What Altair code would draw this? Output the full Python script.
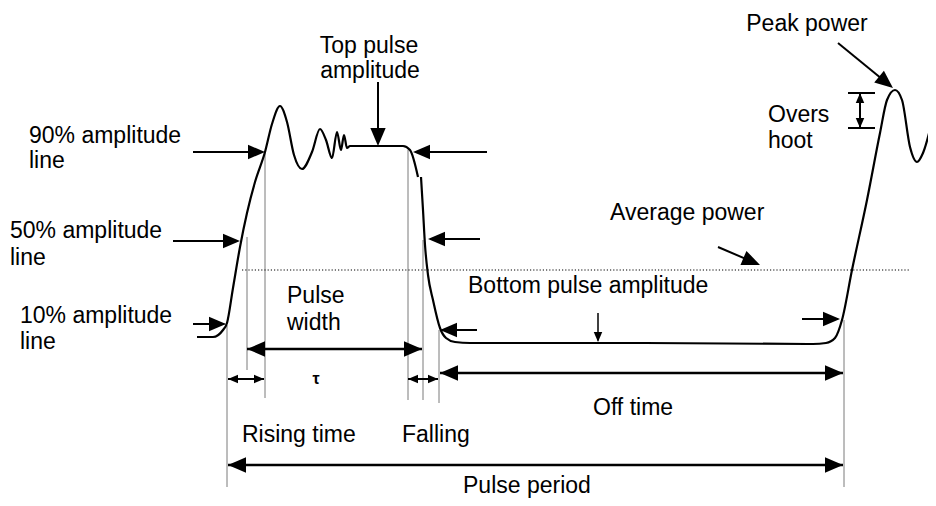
import math
import altair as alt
import pandas as pd

# ---- waveform (diagram units = reference pixels) ----
WAVE1_X = [197, 213, 223, 227, 233, 240, 247, 255, 265, 272, 280, 287, 294, 302, 312, 320, 326, 332, 337, 341, 344, 347, 350, 380, 403, 410, 418]
WAVE1_Y = [337, 337, 330, 323, 288, 247, 213, 182, 152, 124, 106, 122, 155, 169, 152, 129, 140, 158, 132, 150, 135, 148, 146, 146, 146, 150, 177]
WAVE2_X = [421, 423, 425, 428, 433, 440, 446, 455, 470, 640, 813, 826, 835, 842, 852, 867, 880, 887, 895, 902, 910, 917, 923, 933]
WAVE2_Y = [177, 210, 245, 275, 300, 328, 338, 342, 343, 343, 344, 343, 338, 320, 270, 200, 133, 100, 90, 100, 147, 162, 153, 117]

# average power level
AVG_Y = 270
AVG_X = [242, 910]

# single arrows: tail -> tip
ARROW_TAIL_X = [193, 173, 193, 378, 487, 480, 477, 598, 802, 718, 838]
ARROW_TAIL_Y = [152, 241, 324, 82, 152, 239, 330, 313, 319, 247, 43]
ARROW_TIP_X = [265, 240, 226, 378, 413, 428, 440, 598, 840, 760, 893]
ARROW_TIP_Y = [152, 241, 324, 146, 152, 239, 330, 342, 319, 265, 88]
ARROW_HEAD = [17, 17, 17, 18, 17, 17, 17, 10, 17, 18, 18]
ARROW_WIDTH = [2, 2, 2, 2, 2, 2, 2, 1.5, 2, 2, 2]

# double arrows (dimension lines)
DIM_X1 = [247, 228, 408, 440, 228, 860]
DIM_Y1 = [349, 379, 379, 373, 465, 93]
DIM_X2 = [422, 264, 438, 843, 843, 860]
DIM_Y2 = [349, 379, 379, 373, 465, 128]
DIM_HEAD = [18, 10, 10, 18, 18, 10]

# gray extension lines
EXT_X = [227, 247, 265, 408, 423, 439, 844]
EXT_Y1 = [325, 237, 152, 150, 240, 330, 320]
EXT_Y2 = [487, 370, 398, 400, 400, 403, 487]

# overshoot bars
BAR_X1 = [848, 848]
BAR_X2 = [875, 875]
BAR_Y = [93, 128]

# labels
LEFT_TEXT = ["90% amplitude", "line", "50% amplitude", "line", "10% amplitude", "line",
             "Overs", "hoot", "Average power", "Bottom pulse amplitude", "Pulse", "width",
             "Rising time", "Falling", "Off time", "Pulse period"]
LEFT_X = [29, 29, 10, 10, 20, 20, 768, 768, 610, 468, 287, 287, 242, 402, 593, 463]
LEFT_Y = [143, 168, 238, 265, 323, 349, 122, 148, 220, 293, 303, 330, 442, 442, 415, 493]
CENTER_TEXT = ["Top pulse", "amplitude", "Peak power"]
CENTER_X = [369, 370, 807]
CENTER_Y = [53, 78, 31]
TAU_TEXT = ["τ"]
TAU_X = [316]
TAU_Y = [384]

SHAPE = "M0,-1L0.85,1L-0.85,1Z"

# ---- build tables ----
wave = pd.DataFrame({
    "x": WAVE1_X + WAVE2_X,
    "y": WAVE1_Y + WAVE2_Y,
    "seg": ["a"] * len(WAVE1_X) + ["b"] * len(WAVE2_X),
})

shafts = []
heads = []

def add_head(tx, ty, fx, fy, L):
    dx, dy = tx - fx, ty - fy
    n = math.hypot(dx, dy)
    ux, uy = dx / n, dy / n
    ang = math.degrees(math.atan2(ux, -uy)) % 360
    heads.append({"x": tx - ux * L / 2, "y": ty - uy * L / 2, "a": ang, "s": L * L})

for i in range(len(ARROW_TAIL_X)):
    shafts.append({"x": ARROW_TAIL_X[i], "y": ARROW_TAIL_Y[i],
                   "x2": ARROW_TIP_X[i] - (ARROW_TIP_X[i] - ARROW_TAIL_X[i]) * 0.05,
                   "y2": ARROW_TIP_Y[i] - (ARROW_TIP_Y[i] - ARROW_TAIL_Y[i]) * 0.05,
                   "w": ARROW_WIDTH[i]})
    add_head(ARROW_TIP_X[i], ARROW_TIP_Y[i], ARROW_TAIL_X[i], ARROW_TAIL_Y[i], ARROW_HEAD[i])

for i in range(len(DIM_X1)):
    shafts.append({"x": DIM_X1[i], "y": DIM_Y1[i], "x2": DIM_X2[i], "y2": DIM_Y2[i],
                   "w": 2.5 if DIM_HEAD[i] > 12 else 2})
    add_head(DIM_X2[i], DIM_Y2[i], DIM_X1[i], DIM_Y1[i], DIM_HEAD[i])
    add_head(DIM_X1[i], DIM_Y1[i], DIM_X2[i], DIM_Y2[i], DIM_HEAD[i])

for i in range(len(BAR_Y)):
    shafts.append({"x": BAR_X1[i], "y": BAR_Y[i], "x2": BAR_X2[i], "y2": BAR_Y[i], "w": 2})

shafts = pd.DataFrame(shafts)
heads = pd.DataFrame(heads)
ext = pd.DataFrame({"x": EXT_X, "y": EXT_Y1, "y2": EXT_Y2})
avg = pd.DataFrame({"x": [AVG_X[0]], "x2": [AVG_X[1]], "y": [AVG_Y]})
ltext = pd.DataFrame({"t": LEFT_TEXT, "x": LEFT_X, "y": LEFT_Y})
ctext = pd.DataFrame({"t": CENTER_TEXT, "x": CENTER_X, "y": CENTER_Y})
tau = pd.DataFrame({"t": TAU_TEXT, "x": TAU_X, "y": TAU_Y})

# 1 diagram unit = 1 screen pixel; page margin is 8px
xs = alt.Scale(domain=[8, 928], nice=False, zero=False)
ys = alt.Scale(domain=[8, 498], nice=False, zero=False, reverse=True)
X = alt.X("x:Q", scale=xs, axis=None)
Y = alt.Y("y:Q", scale=ys, axis=None)

FONT = "Liberation Sans"

ext_layer = alt.Chart(ext).mark_rule(color="#7a7a7a", strokeWidth=1).encode(
    x=X, y=Y, y2="y2:Q")

avg_layer = alt.Chart(avg).mark_rule(color="black", strokeWidth=1.2, strokeDash=[1.2, 2]).encode(
    x=X, x2="x2:Q", y=Y)

wave_layer = alt.Chart(wave).mark_line(color="black", strokeWidth=2.2, interpolate="monotone").encode(
    x=X, y=Y, detail="seg:N")

shaft_layer = alt.Chart(shafts).mark_rule(color="black").encode(
    x=X, y=Y, x2="x2:Q", y2="y2:Q",
    strokeWidth=alt.StrokeWidth("w:Q", scale=None))

head_layer = alt.Chart(heads).mark_point(shape=SHAPE, filled=True, color="black", opacity=1).encode(
    x=X, y=Y,
    size=alt.Size("s:Q", scale=None),
    angle=alt.Angle("a:Q", scale=None))

ltext_layer = alt.Chart(ltext).mark_text(align="left", baseline="alphabetic", font=FONT,
                                         fontSize=23, color="black").encode(x=X, y=Y, text="t:N")
ctext_layer = alt.Chart(ctext).mark_text(align="center", baseline="alphabetic", font=FONT,
                                         fontSize=23, color="black").encode(x=X, y=Y, text="t:N")
tau_layer = alt.Chart(tau).mark_text(align="center", baseline="alphabetic", font=FONT,
                                     fontSize=16, fontWeight="bold", color="black").encode(x=X, y=Y, text="t:N")

chart = alt.layer(
    ext_layer, avg_layer, wave_layer, shaft_layer, head_layer,
    ltext_layer, ctext_layer, tau_layer
).properties(
    width=920, height=490, padding=0,
    autosize=alt.AutoSizeParams(type="none"),
    background="white",
).configure_view(strokeWidth=0)

chart.save("out.html", embed_options={"renderer": "svg", "actions": False})
